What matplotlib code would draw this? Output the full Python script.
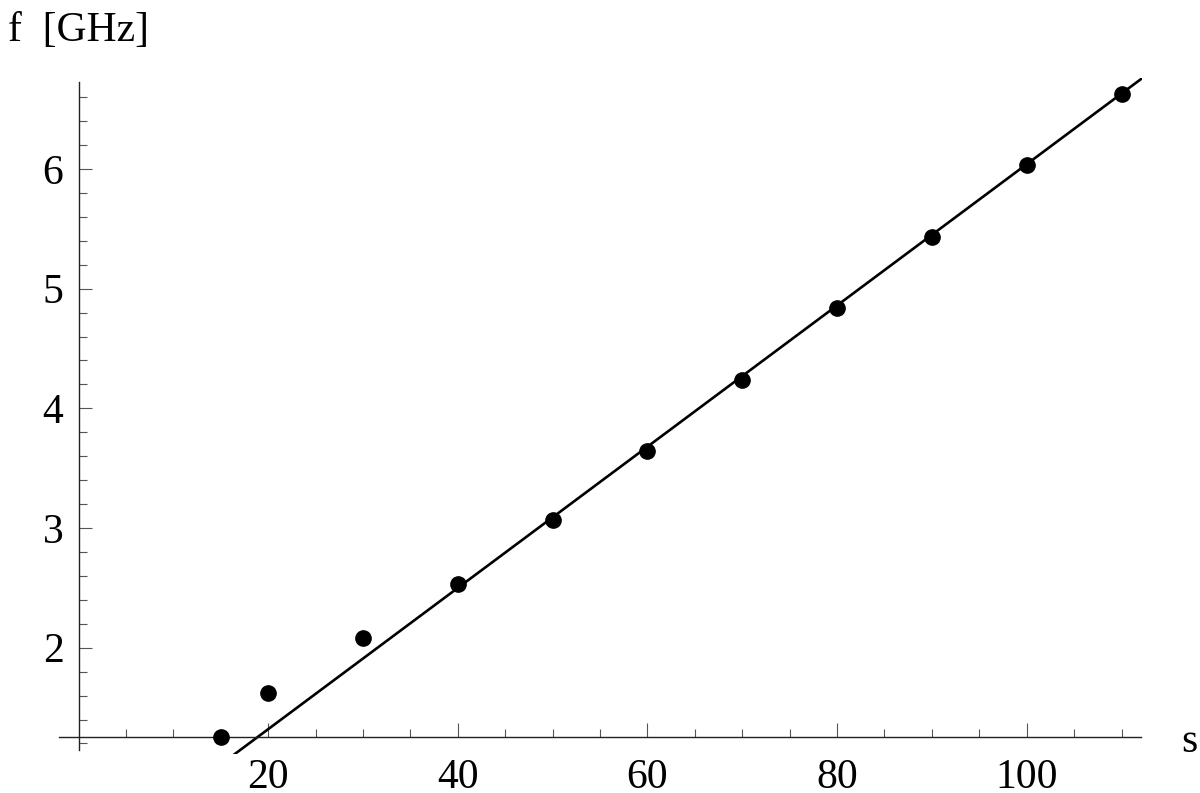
import numpy as np
import matplotlib
matplotlib.use('Agg')
import matplotlib.pyplot as plt
from matplotlib.patches import Rectangle

# data
s_vals = [15, 20, 30, 40, 50, 60, 70, 80, 90, 100, 110]
f_vals = [1.255, 1.621, 2.079, 2.530, 3.067, 3.644, 4.237, 4.839, 5.432, 6.033, 6.630]
# straight line drawn through the points (slope, intercept as read)
fit_slope = 0.0590
fit_intercept = 0.140
x_ticks = [20, 40, 60, 80, 100]
y_ticks = [2, 3, 4, 5, 6]

plt.rcParams['font.family'] = ['Liberation Serif', 'DejaVu Serif']

fig = plt.figure(figsize=(12, 7.93), dpi=100)
ax = fig.add_axes([0, 0, 1, 1])
ax.set_xlim(-8.30, 118.28)
ax.set_ylim(0.786, 7.412)

for side in ['top', 'right']:
    ax.spines[side].set_visible(False)
ax.spines['left'].set_position(('data', 0))
ax.spines['bottom'].set_position(('data', 1.255))
ax.spines['left'].set_bounds(1.145, 6.73)
ax.spines['bottom'].set_bounds(-2.1, 112.1)
for side in ['left', 'bottom']:
    ax.spines[side].set_linewidth(1.0)
    ax.spines[side].set_color('#222222')

ax.set_xticks(x_ticks)
ax.set_xticks([v for v in range(5, 115, 5) if v not in x_ticks], minor=True)
ax.set_yticks(y_ticks)
ax.set_yticks([round(v, 1) for v in np.arange(1.2, 6.65, 0.2) if abs(v - round(v)) > 0.05], minor=True)
ax.tick_params(which='both', direction='in', color='#555555', width=0.8, labelsize=30)
ax.tick_params(axis='x', which='major', length=10, pad=15.5)
ax.tick_params(axis='x', which='minor', length=6)
ax.tick_params(axis='y', which='major', length=9.5, pad=11)
ax.tick_params(axis='y', which='minor', length=6)

line, = ax.plot([0, 115], [fit_intercept, fit_intercept + fit_slope * 115],
                color='black', lw=1.9)
line.set_clip_path(Rectangle((-2.1, 1.112), 114.3, 5.646, transform=ax.transData))

ax.plot(s_vals, f_vals, 'o', color='black', ms=11, zorder=3)

fig.text(8 / 1200, 1 - 41 / 793, 'f  [GHz]', fontsize=30, va='baseline', ha='left')
fig.text(1181 / 1200, 1 - 752 / 793, 's', fontsize=30, va='baseline', ha='left')

fig.savefig('out.png', dpi=100)
